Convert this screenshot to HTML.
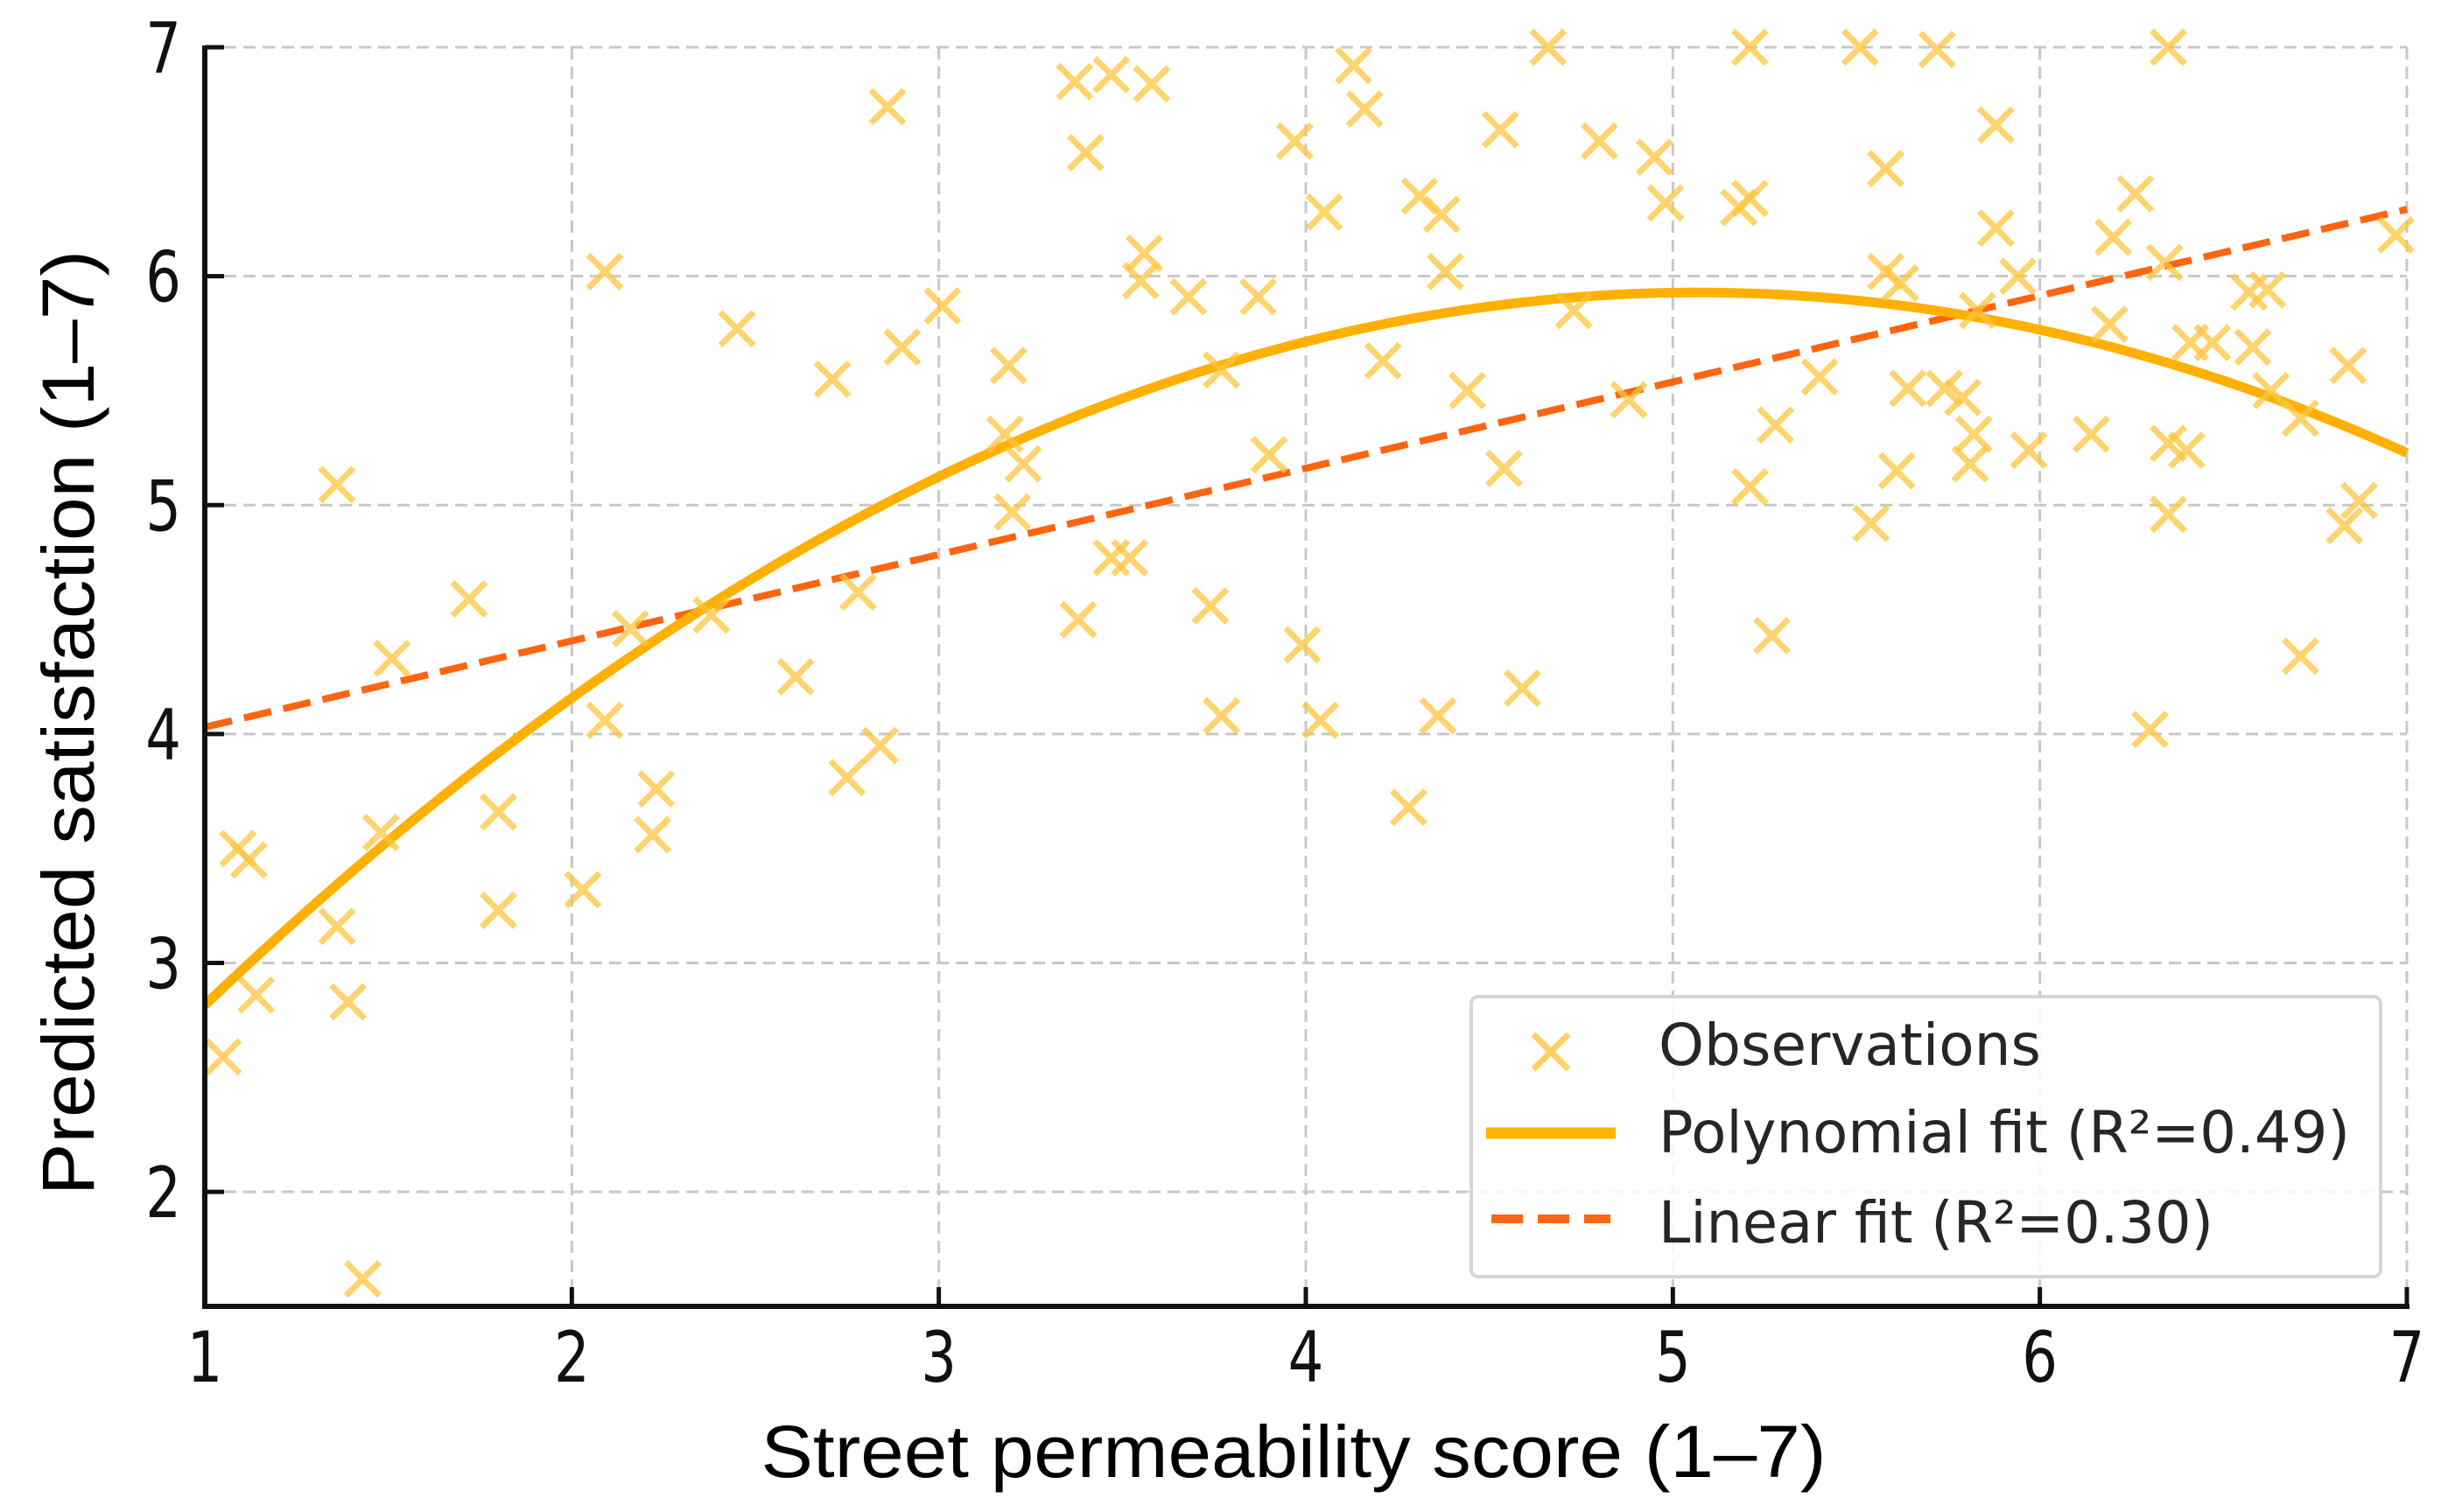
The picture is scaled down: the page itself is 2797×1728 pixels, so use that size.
<!DOCTYPE html>
<html><head><meta charset="utf-8"><style>
html,body{margin:0;padding:0;background:#fff;}
svg{display:block;}
</style></head><body>
<svg id="chart" width="2797" height="1728" viewBox="0 0 2797 1728" xmlns="http://www.w3.org/2000/svg">
<rect width="2797" height="1728" fill="#fff"/>
<g id="grid"></g>
<g id="lines"></g>
<g id="points"></g>
<g id="axes"></g>
<text x="1478" y="1688" text-anchor="middle" font-family="Liberation Sans, sans-serif" font-size="84" textLength="1217" lengthAdjust="spacingAndGlyphs" fill="#000">Street permeability score (1–7)</text>
<text transform="translate(107,826) rotate(-90)" x="0" y="0" text-anchor="middle" font-family="Liberation Sans, sans-serif" font-size="84" textLength="1080" lengthAdjust="spacingAndGlyphs" fill="#000">Predicted satisfaction (1–7)</text>
<g>
  <rect x="1681" y="1139" width="1039" height="320" rx="8" fill="#fff" fill-opacity="0.85" stroke="#d6d6d6" stroke-width="4"/>
  <g>
    <path d="M1752,1182 L1792,1222 M1792,1182 L1752,1222" stroke="#FFC43D" stroke-opacity="0.8" stroke-width="7"/>
    <text x="1895" y="1217" font-family="DejaVu Sans, sans-serif" font-size="66" textLength="437" lengthAdjust="spacingAndGlyphs" fill="#262626">Observations</text>
  </g>
  <g>
    <line x1="1698" y1="1295" x2="1846" y2="1295" stroke="#FFB000" stroke-width="13"/>
    <text x="1895" y="1317" font-family="DejaVu Sans, sans-serif" font-size="66" textLength="790" lengthAdjust="spacingAndGlyphs" fill="#262626">Polynomial fit (R²=0.49)</text>
  </g>
  <g>
    <line x1="1704" y1="1393" x2="1840" y2="1393" stroke="#FF6410" stroke-width="10" stroke-dasharray="36,17"/>
    <text x="1895" y="1420" font-family="DejaVu Sans, sans-serif" font-size="66" textLength="634" lengthAdjust="spacingAndGlyphs" fill="#262626">Linear fit (R²=0.30)</text>
  </g>
</g>
</svg>
<script>
const xTicks = [1, 2, 3, 4, 5, 6, 7];
const yTicks = [2, 3, 4, 5, 6, 7];
const obsX = [1.05,1.09,1.12,1.14,1.36,1.36,1.39,1.43,1.48,1.51,1.72,1.80,1.80,2.03,2.09,2.09,2.16,2.22,2.23,2.38,2.45,2.61,2.71,2.75,2.78,2.84,2.86,2.90,3.01,3.19,3.18,3.20,3.23,3.38,3.37,3.40,3.47,3.58,3.47,3.52,3.56,3.55,3.68,3.74,3.77,3.77,3.87,3.90,3.97,3.99,4.04,4.05,4.13,4.16,4.21,4.28,4.31,4.36,4.37,4.38,4.44,4.53,4.54,4.59,4.66,4.73,4.80,4.88,4.95,4.98,5.18,5.21,5.21,5.21,5.27,5.28,5.40,5.51,5.54,5.58,5.58,5.62,5.61,5.64,5.72,5.74,5.79,5.81,5.82,5.83,5.88,5.88,5.94,5.97,6.14,6.19,6.20,6.26,6.30,6.35,6.35,6.35,6.40,6.34,6.41,6.47,6.57,6.62,6.58,6.63,6.71,6.71,6.83,6.84,6.87,6.97];
const obsY = [2.59,3.50,3.45,2.86,5.09,3.16,2.83,1.62,3.57,4.33,4.59,3.66,3.23,3.32,6.02,4.06,4.46,3.56,3.76,4.52,5.77,4.25,5.55,3.81,4.62,3.95,6.74,5.69,5.87,5.61,5.31,4.97,5.18,4.50,6.85,6.54,6.88,6.84,4.77,4.77,6.10,5.98,5.91,4.56,5.59,4.08,5.91,5.22,6.59,4.39,4.06,6.28,6.92,6.73,5.63,3.68,6.35,4.08,6.27,6.02,5.50,6.64,5.16,4.20,7.00,5.85,6.59,5.46,6.52,6.32,6.30,6.34,7.00,5.08,4.43,5.35,5.56,7.00,4.92,6.47,6.02,5.97,5.15,5.51,6.99,5.51,5.47,5.18,5.31,5.85,6.21,6.66,6.00,5.24,5.31,5.79,6.17,6.36,4.02,7.00,4.96,5.27,5.24,6.06,5.71,5.71,5.93,5.94,5.69,5.50,5.38,4.34,4.91,5.61,5.02,6.18];
const polyCoef = [1.098, 1.906, -0.188];   // c0 + c1 x + c2 x^2
const linCoef = [3.653, 0.377];            // b0 + b1 x

const X0 = 234, X1 = 2750, Y0 = 1493, Y1 = 54;
const XMIN = 1, XMAX = 7, YMIN = 1.5, YMAX = 7;
const sx = v => X0 + (v - XMIN) / (XMAX - XMIN) * (X1 - X0);
const sy = v => Y0 - (v - YMIN) / (YMAX - YMIN) * (Y0 - Y1);
const NS = 'http://www.w3.org/2000/svg';
function mk(tag, parent, attrs) {
  const e = document.createElementNS(NS, tag);
  for (const k in attrs) e.setAttribute(k, attrs[k]);
  parent.appendChild(e);
  return e;
}
const grid = document.getElementById('grid');
const axes = document.getElementById('axes');
const lines = document.getElementById('lines');
const pts = document.getElementById('points');

xTicks.forEach(t => {
  const g = mk('line', grid, {x1: sx(t), x2: sx(t), y1: Y1, y2: Y0, stroke: '#c8c8c8', 'stroke-width': 3, 'stroke-dasharray': '14,8'});
  
  
  const tk = mk('line', axes, {x1: sx(t), x2: sx(t), y1: Y0, y2: Y0 - 22, stroke: '#111', 'stroke-width': 5});
  
  
  const lb = mk('text', axes, {x: sx(t), y: 1579, 'text-anchor': 'middle', 'font-family': 'DejaVu Sans, sans-serif', 'font-size': 80, fill: '#111', transform: `translate(${sx(t)},0) scale(0.8,1) translate(${-sx(t)},0)`});
  lb.textContent = t;
  
  
});
yTicks.forEach(t => {
  const g = mk('line', grid, {x1: X0, x2: X1, y1: sy(t), y2: sy(t), stroke: '#c8c8c8', 'stroke-width': 3, 'stroke-dasharray': '14,8'});
  
  
  const tk = mk('line', axes, {x1: X0, x2: X0 + 22, y1: sy(t), y2: sy(t), stroke: '#111', 'stroke-width': 5});
  
  
  const lb = mk('text', axes, {x: 207, y: sy(t) + 29, 'text-anchor': 'end', 'font-family': 'DejaVu Sans, sans-serif', 'font-size': 80, fill: '#111', transform: 'translate(207,0) scale(0.8,1) translate(-207,0)'});
  lb.textContent = t;
  
  
});
const sl = mk('line', axes, {x1: X0, x2: X0, y1: Y1 - 2, y2: Y0 + 3, stroke: '#111', 'stroke-width': 6});


const sb = mk('line', axes, {x1: X0 - 3, x2: X1 + 3, y1: Y0, y2: Y0, stroke: '#111', 'stroke-width': 6});



const lp = mk('line', lines, {x1: sx(XMIN), y1: sy(linCoef[0] + linCoef[1] * XMIN), x2: sx(XMAX), y2: sy(linCoef[0] + linCoef[1] * XMAX), stroke: '#FF6410', 'stroke-width': 8, 'stroke-dasharray': '32,14'});


let d = '';
for (let i = 0; i <= 120; i++) {
  const x = XMIN + (XMAX - XMIN) * i / 120;
  const y = polyCoef[0] + polyCoef[1] * x + polyCoef[2] * x * x;
  d += (i ? 'L' : 'M') + sx(x).toFixed(1) + ',' + sy(y).toFixed(1);
}
const pp = mk('path', lines, {d: d, fill: 'none', stroke: '#FFB000', 'stroke-width': 11, 'stroke-linecap': 'butt'});



obsX.forEach((xv, i) => {
  const cx = sx(xv), cy = sy(obsY[i]), r = 19;
  const m = mk('path', pts, {d: `M${cx-r},${cy-r}L${cx+r},${cy+r}M${cx+r},${cy-r}L${cx-r},${cy+r}`, stroke: '#FFC43D', 'stroke-opacity': 0.75, 'stroke-width': 7});
  
  
});
</script>
</body></html>
